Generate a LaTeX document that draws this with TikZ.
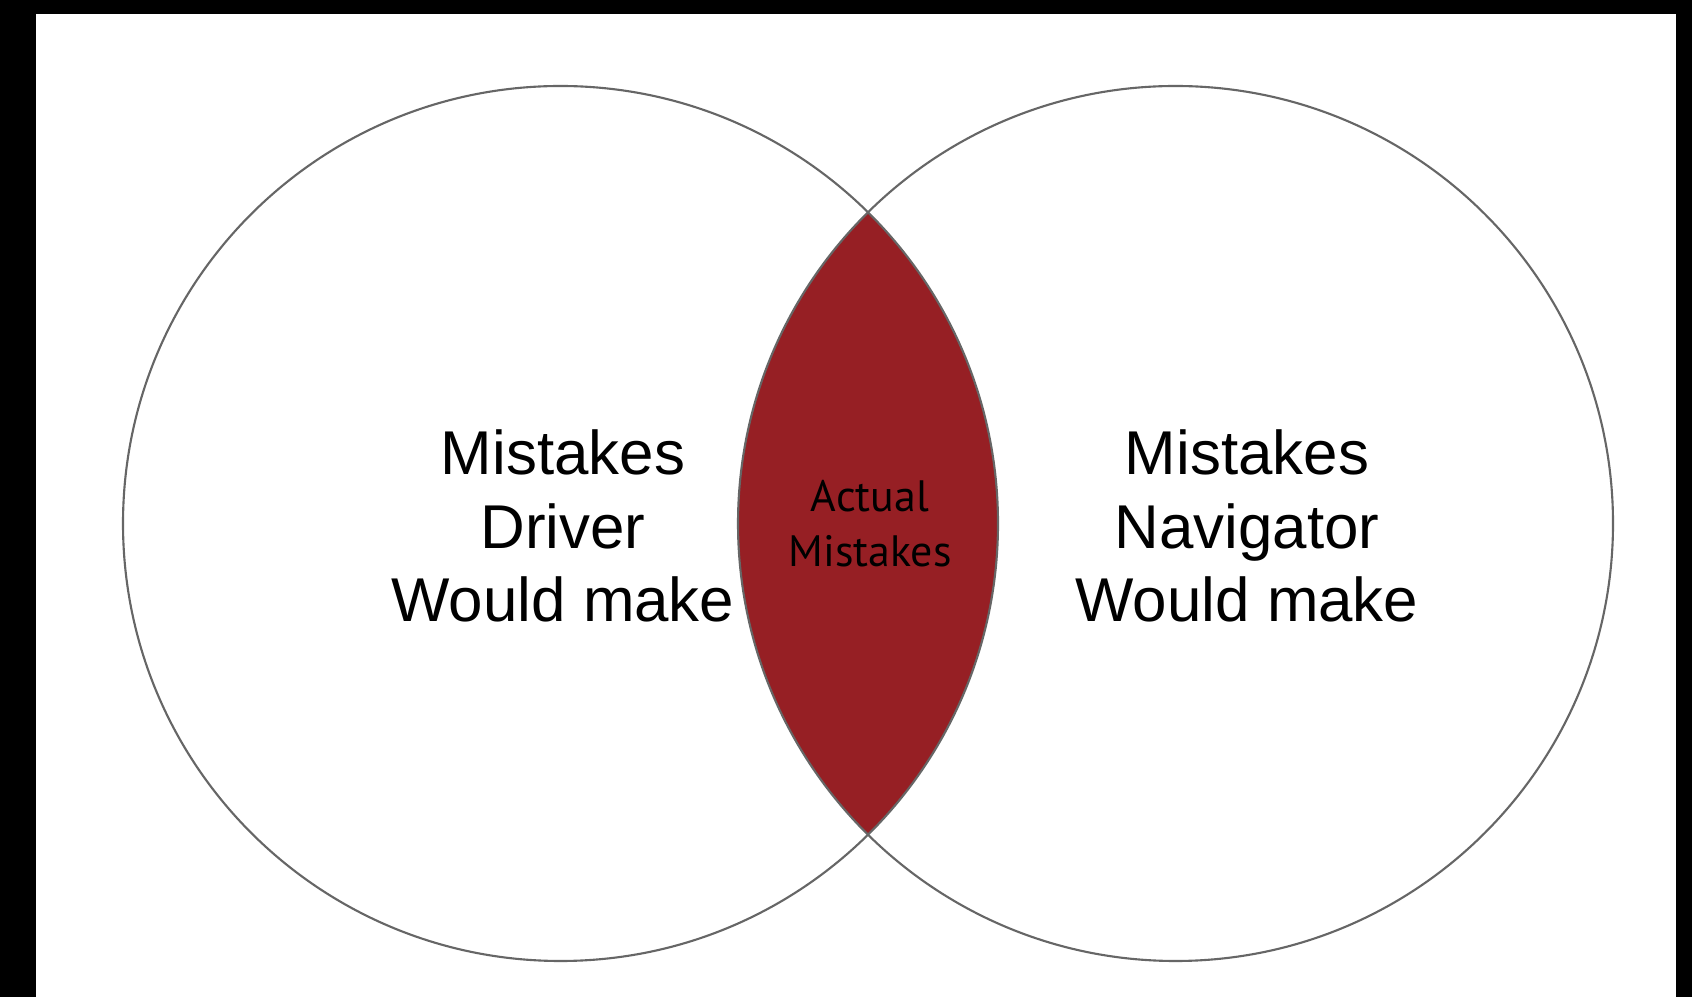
\documentclass[tikz,border=0pt]{standalone}
\usepackage{fontspec}
\setmainfont{Liberation Sans}
\newfontfamily\lensfont{PT Sans}
\definecolor{lensred}{RGB}{150,31,36}

\begin{document}
\begin{tikzpicture}
    % 枠
    \useasboundingbox (0,0) rectangle (16.92,-9.97);
    \fill[black] (0,0) rectangle (16.92,-9.97);
    \fill[white] (0.36,-0.14) rectangle (16.76,-9.97);

    % 重なり部分に赤色を塗る
    \begin{scope}
        \clip (5.605,-5.235) circle (4.375);
        \fill[lensred] (11.755,-5.235) circle (4.375);
    \end{scope}

    % 円
    \node[circle, draw=black!60, line width=0.6pt, minimum size=8.75cm] (D) at (5.605,-5.235) {};
    \node[circle, draw=black!60, line width=0.6pt, minimum size=8.75cm] (N) at (11.755,-5.235) {};

    % テキスト
    \node[align=center, inner sep=0, font=\fontsize{17.6}{21}\selectfont] (DT) at (5.63,-5.26) {Mistakes\\Driver\\Would make};
    \node[align=center, inner sep=0, font=\fontsize{17.6}{21}\selectfont] (NT) at (12.47,-5.26) {Mistakes\\Navigator\\Would make};
    \node[align=center, inner sep=0, text=black, font=\lensfont\fontsize{12.5}{15.6}\selectfont] (AT) at (8.70,-5.24) {Actual\\Mistakes};
\end{tikzpicture}
\end{document}
